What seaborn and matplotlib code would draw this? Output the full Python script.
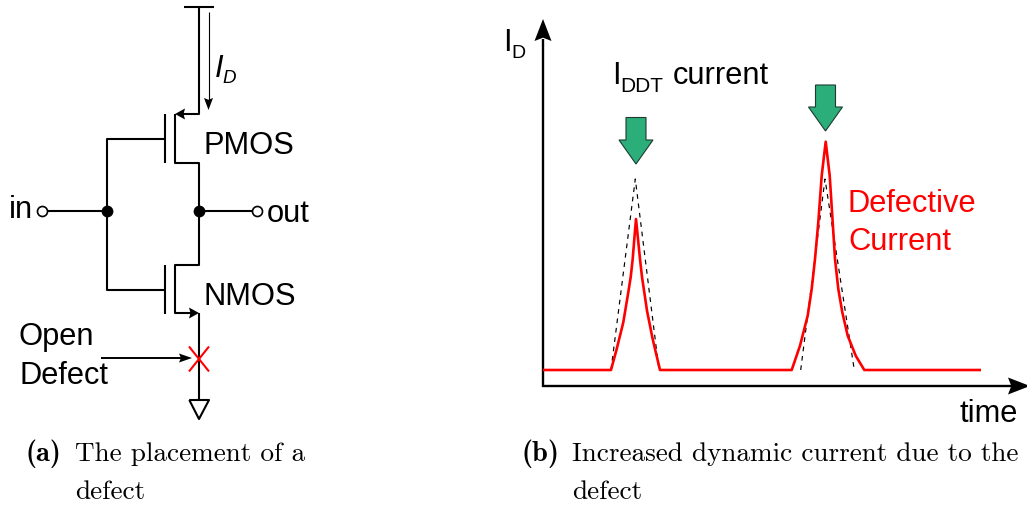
import matplotlib
matplotlib.use("Agg")
import matplotlib.pyplot as plt
import pandas as pd
import seaborn as sns

sns.set_theme(style="white")
plt.rcParams["font.family"] = ["Liberation Sans", "DejaVu Sans"]
plt.rcParams["text.color"] = "black"
plt.rcParams["axes.unicode_minus"] = False

# Panel b, current trace of the defective device
defect_time = [0, 68, 73.7, 77, 80.3, 85.3, 87.7, 89.7, 91.3, 93, 95, 97, 99, 101.3, 104, 107, 109.3, 112, 117,
               248.7, 257, 264.7, 268.7, 272, 275.3, 278.7, 282.7, 286.7, 289.7, 292, 295.3, 299.3, 304.7,
               312.7, 321.3, 438]
defect_current = [16, 16, 37, 50.3, 63.7, 93.7, 109, 127, 147, 167, 147, 127, 109, 93.7, 75.3, 60.3, 48.7, 37, 16,
                  16, 40.3, 70.3, 97, 127, 163.7, 210.3, 244.3, 210.3, 163.7, 127, 97, 73.7, 50.3,
                  30.3, 16, 16]

# Panel b, the two dashed fault free pulses
good_time_1 = [68, 92.3, 116]
good_current_1 = [16, 207, 16]
good_time_2 = [257.7, 282, 311.3]
good_current_2 = [16, 207, 16]

# Panel a, circuit wires as (x list, y list)
wires = [
    ([199, 199, 180], [8, 115, 115]),
    ([184, 214], [8, 8]),
    ([174.5, 174.5, 199, 199, 174.5, 174.5, 192], [115, 164, 164, 265.7, 265.7, 314, 314]),
    ([199, 199], [314, 401]),
    ([165, 165], [115, 164]),
    ([165, 165], [265.7, 314.7]),
    ([165, 106.5, 106.5, 165], [139.5, 139.5, 290.5, 290.5]),
    ([46.5, 106.5], [212, 212]),
    ([199, 252], [212, 212]),
    ([189.3, 209, 199, 189.3], [401, 401, 420, 401]),
]
dots_x = [106.5, 199]
dots_y = [212, 212]
pins_x = [41.5, 257]
pins_y = [212, 212]

GREEN = "#2BAE7A"
RED = "#FF0000"
LABEL_SIZE = 22.2


def draw_wire(axis, xs, ys, **kw):
    df = pd.DataFrame({"x": xs, "y": ys})
    sns.lineplot(data=df, x="x", y="y", ax=axis, sort=False, estimator=None,
                 solid_capstyle="butt", legend=False, **kw)


def head(axis, tip, dx, dy, length, half):
    # notched arrow head, (dx, dy) is the unit direction it points to
    bx, by = tip[0] - dx * length, tip[1] - dy * length
    nx, ny = tip[0] - dx * length * 0.85, tip[1] - dy * length * 0.85
    xs = [tip[0], bx - dy * half, nx, bx + dy * half]
    ys = [tip[1], by + dx * half, ny, by - dx * half]
    axis.fill(xs, ys, color="black", lw=0, zorder=6, clip_on=False)


def block_arrow(axis, cx, top, shoulder, tip):
    xs = [cx - 10, cx + 10, cx + 10, cx + 17, cx, cx - 17, cx - 10]
    ys = [top, top, shoulder, shoulder, tip, shoulder, shoulder]
    axis.fill(xs, ys, facecolor=GREEN, edgecolor="#1d3b30", lw=0.8, zorder=5)


fig = plt.figure(figsize=(10.27, 5.06), dpi=100)

# overlay in pixel units for the schematic and the labels
ax = fig.add_axes([0, 0, 1, 1])
ax.set_xlim(0, 1027)
ax.set_ylim(506, 0)
ax.axis("off")

# current plot
ax_b = fig.add_axes([543 / 1027, (506 - 387) / 506, 484 / 1027, 387 / 506])
ax_b.set_xlim(0, 484)
ax_b.set_ylim(0, 387)
ax_b.axis("off")

draw_wire(ax_b, good_time_1, good_current_1, color="black", lw=0.85, linestyle=(0, (4, 4)))
draw_wire(ax_b, good_time_2, good_current_2, color="black", lw=0.85, linestyle=(0, (4, 4)))
draw_wire(ax_b, defect_time, defect_current, color=RED, lw=1.9)

# axis lines
draw_wire(ax, [543, 543], [40, 387.7], color="black", lw=1.7)
draw_wire(ax, [542.4, 1012], [387, 387], color="black", lw=1.7)
head(ax, (543, 20), 0, -1, 22, 8.5)
head(ax, (1030, 387), 1, 0, 22, 8.5)

block_arrow(ax, 636, 118.5, 141, 165)
block_arrow(ax, 825.5, 86, 108, 132)

# schematic
for xs, ys in wires:
    draw_wire(ax, xs, ys, color="black", lw=1.5)
ax.scatter(dots_x, dots_y, s=72, color="black", zorder=4, linewidths=0)
ax.scatter(pins_x, pins_y, s=52, facecolor="white", edgecolor="black", linewidths=1.2, zorder=4)
head(ax, (175, 115), -1, 0, 10, 5.5)
head(ax, (199, 314), 1, 0, 10, 5.5)
draw_wire(ax, [208.5, 208.5], [13, 105], color="black", lw=0.8)
head(ax, (208.5, 111), 0, 1, 12, 4.5)
draw_wire(ax, [101, 185], [359, 359], color="black", lw=1.4)
head(ax, (192, 359), 1, 0, 13, 4.5)
draw_wire(ax, [189, 209], [347.5, 372.5], color=RED, lw=1.5)
draw_wire(ax, [189, 209], [372.5, 347.5], color=RED, lw=1.5)

# labels
ax.text(214.5, 76.5, "I", fontsize=LABEL_SIZE, style="italic", va="baseline")
ax.text(222.5, 83, "D", fontsize=13.5, style="italic", va="baseline")
ax.text(203, 154, "PMOS", fontsize=LABEL_SIZE, va="baseline")
ax.text(203, 305, "NMOS", fontsize=LABEL_SIZE, va="baseline")
ax.text(9, 218.5, "in", fontsize=LABEL_SIZE, va="baseline")
ax.text(267, 221.7, "out", fontsize=LABEL_SIZE, va="baseline")
ax.text(19, 345, "Open", fontsize=LABEL_SIZE, va="baseline")
ax.text(19, 384, "Defect", fontsize=LABEL_SIZE, va="baseline")

ax.text(503, 51, "I", fontsize=LABEL_SIZE, va="baseline")
ax.text(511, 58, "D", fontsize=14, va="baseline")
ax.text(612, 84, "I", fontsize=LABEL_SIZE, va="baseline")
ax.text(620.5, 92, "DDT", fontsize=15, va="baseline")
ax.text(673, 84, "current", fontsize=LABEL_SIZE, va="baseline")
ax.text(848, 212, "Defective", fontsize=LABEL_SIZE, color=RED, va="baseline")
ax.text(848, 250, "Current", fontsize=LABEL_SIZE, color=RED, va="baseline")
ax.text(960, 422, "time", fontsize=LABEL_SIZE, va="baseline")

# captions
cap = dict(fontsize=19.6, color="black", va="baseline")
bold = dict(fontsize=20.5, color="black", va="baseline")
ax.text(26, 461, "(a)", family="cmb10", **bold)
ax.text(75, 461, "The placement of a", family="cmr10", **cap)
ax.text(75, 499, "defect", family="cmr10", **cap)
ax.text(522, 461, "(b)", family="cmb10", **bold)
ax.text(572, 461, "Increased dynamic current due to the", family="cmr10", **cap)
ax.text(572, 499, "defect", family="cmr10", **cap)

fig.savefig("out.png", dpi=100)
